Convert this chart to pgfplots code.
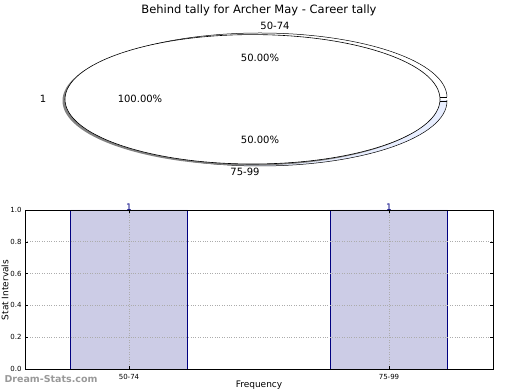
\documentclass[border=0pt]{standalone}
\usepackage{pgfplots}
\pgfplotsset{compat=1.18}
\usepackage{fontspec}
\setmainfont{DejaVu Sans}
\definecolor{barfill}{RGB}{204,204,230}
\definecolor{navyc}{RGB}{0,0,128}
\definecolor{wedgeblue}{RGB}{232,238,255}
\definecolor{shadowc}{RGB}{130,130,130}
\begin{document}
\begin{tikzpicture}
\useasboundingbox (0pt,0pt) rectangle (520pt,390pt);
\clip (0pt,0pt) rectangle (520pt,390pt);
% ---------- top pie ----------
\begin{axis}[at={(0pt,195pt)}, anchor=south west, scale only axis,
  width=520pt, height=195pt, xmin=0, xmax=520, ymin=-195, ymax=0,
  hide axis, clip=false]
  % exploded wedge 50-74 (top)
  \begin{scope}
    \clip (axis cs:0,-97) rectangle (axis cs:520,0);
    \filldraw[fill=white, draw=black, line width=0.5pt] (axis cs:260,-97.5) ellipse [x radius=187, y radius=64.5];
  \end{scope}
  \draw[line width=0.5pt] (axis cs:73,-97) -- (axis cs:447,-97);
  % exploded wedge 75-99 (bottom)
  \begin{scope}
    \clip (axis cs:0,-195) rectangle (axis cs:520,-101);
    \filldraw[fill=wedgeblue, draw=black, line width=0.5pt] (axis cs:260,-101) ellipse [x radius=187, y radius=65];
  \end{scope}
  \draw[line width=0.5pt] (axis cs:73,-101) -- (axis cs:447,-101);
  % shadow of full pie
  \fill[shadowc] (axis cs:250,-100.8) ellipse [x radius=187.5, y radius=64.7];
  % full pie "1" 100%
  \filldraw[fill=white, draw=black, line width=0.6pt] (axis cs:252.5,-99.3) ellipse [x radius=187.5, y radius=64.7];
\end{axis}
% pie texts
\node[font=\fontsize{11.5}{13}\selectfont] at (259pt,380pt) {Behind tally for Archer May - Career tally};
\node[font=\fontsize{10}{12}\selectfont] at (275pt,364pt) {50-74};
\node[font=\fontsize{10}{12}\selectfont] at (245pt,218pt) {75-99};
\node[font=\fontsize{10}{12}\selectfont] at (43pt,291pt) {1};
\node[font=\fontsize{10}{12}\selectfont] at (260pt,332pt) {50.00\%};
\node[font=\fontsize{10}{12}\selectfont] at (260pt,250pt) {50.00\%};
\node[font=\fontsize{10}{12}\selectfont] at (140pt,291pt) {100.00\%};
% ---------- bottom bar chart ----------
\begin{axis}[at={(25pt,21pt)}, anchor=south west, scale only axis,
  width=468pt, height=159pt,
  xmin=-0.4, xmax=1.4, ymin=0, ymax=1,
  ybar, bar width=0.45,
  xtick={0,1}, xticklabels={50-74,75-99},
  ytick={0,0.2,0.4,0.6,0.8,1.0},
  yticklabel style={/pgf/number format/.cd, fixed, fixed zerofill, precision=1},
  /pgf/number format/assume math mode=true,
  ticklabel style={font=\fontsize{7}{8}\selectfont},
  xticklabel style={yshift=-2pt},
  grid=major, grid style={dotted, gray!65, line width=0.6pt},
  tick align=inside, major tick length=3pt, tick style={black, line width=0.4pt},
  axis line style={line width=0.8pt},
  axis on top, clip=false]
  \addplot[fill=barfill, draw=navyc, line width=0.6pt,
    nodes near coords, nodes near coords align={vertical},
    every node near coord/.append style={font=\fontsize{9}{10}\selectfont, text=navyc, inner sep=0.5pt, yshift=-1pt}]
    coordinates {(0,1) (1,1)};
\end{axis}
\node[rotate=90, font=\fontsize{9}{10}\selectfont] at (5pt,100pt) {Stat Intervals};
\node[font=\fontsize{9}{10}\selectfont] at (259pt,5pt) {Frequency};
\node[font=\bfseries\fontsize{9.5}{11}\selectfont, text=gray!80] at (51pt,11pt) {Dream-Stats.com};
\end{tikzpicture}
\end{document}
